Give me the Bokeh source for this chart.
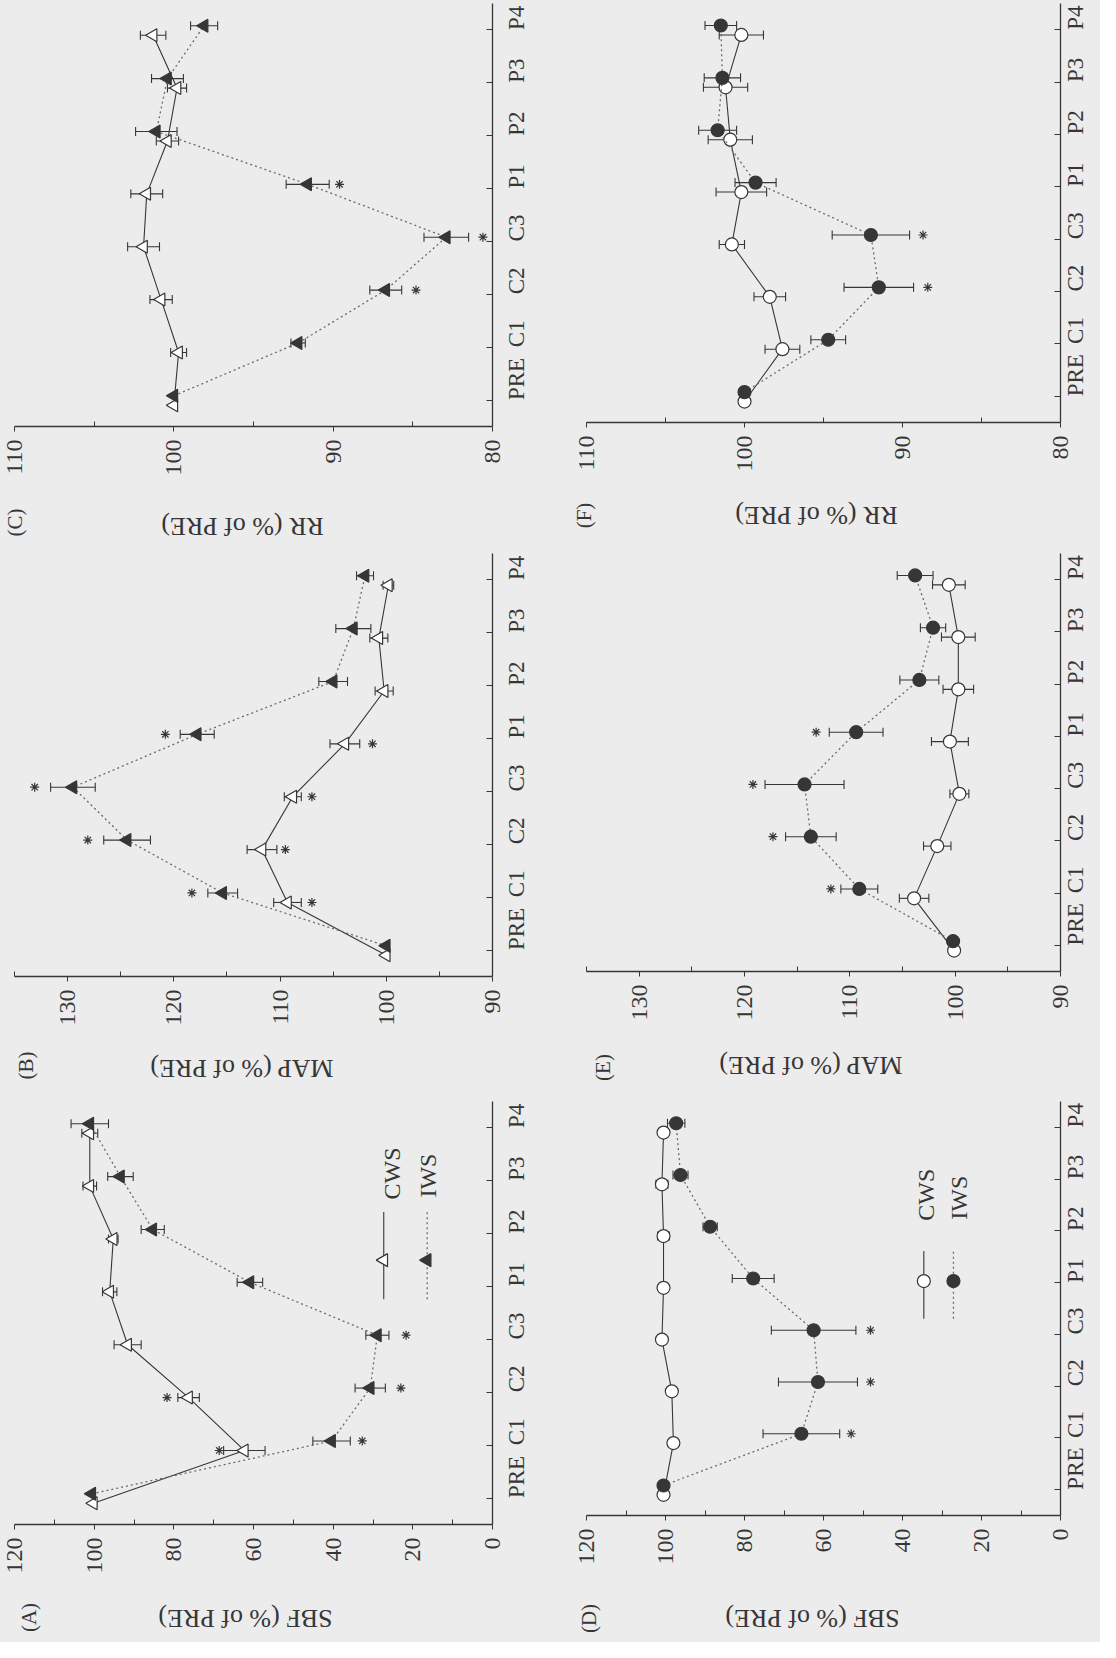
import math
from bokeh.plotting import figure
from bokeh.models import ColumnDataSource, Range1d, FixedTicker, Label
from bokeh.layouts import column, row
from bokeh.embed import file_html
from bokeh.resources import INLINE
from bokeh.core.properties import value

# ---------------- data ----------------
categories = ["PRE", "C1", "C2", "C3", "P1", "P2", "P3", "P4"]
series_names = ["CWS", "IWS"]

# (A) SBF, triangles
a_cws = [100.2, 62.3, 76.3, 91.6, 96.1, 95.2, 101.1, 101.1]
a_cws_err = [0, 5.2, 2.7, 3.4, 1.8, 1.2, 1.7, 2.0]
a_iws = [100.6, 40.4, 30.7, 28.9, 60.9, 85.3, 93.4, 101.1]
a_iws_err = [0, 4.7, 3.8, 2.9, 3.2, 2.9, 3.2, 4.7]
a_ast_cws = [None, 68.6, 81.7, None, None, None, None, None]
a_ast_iws = [None, 32.7, 23.0, 21.7, None, None, None, None]

# (B) MAP, triangles
b_cws = [100.0, 109.3, 111.7, 108.8, 103.9, 100.2, 100.7, 99.8]
b_cws_err = [0, 1.3, 1.4, 0.8, 1.4, 0.85, 0.85, 0.5]
b_iws = [100.0, 115.4, 124.4, 129.5, 117.8, 105.0, 103.1, 102.0]
b_iws_err = [0, 1.4, 2.2, 2.1, 1.6, 1.35, 1.65, 0.8]
b_ast_cws = [None, 107.0, 109.5, 107.0, 101.3, None, None, None]
b_ast_iws = [None, 118.3, 128.1, 133.1, 120.8, None, None, None]

# (C) RR, triangles
c_cws = [100.0, 99.7, 100.8, 101.9, 101.7, 100.4, 99.8, 101.3]
c_cws_err = [0, 0.5, 0.7, 1.0, 1.0, 0.7, 0.6, 0.8]
c_iws = [100.0, 92.2, 86.7, 82.9, 91.6, 101.1, 100.4, 98.1]
c_iws_err = [0, 0.45, 1.0, 1.4, 1.35, 1.3, 1.0, 0.85]
c_ast_cws = [None] * 8
c_ast_iws = [None, None, 84.8, 80.6, 89.6, None, None, None]

# (D) SBF, circles
d_cws = [100.5, 98.0, 98.4, 100.9, 100.5, 100.5, 100.9, 100.5]
d_cws_err = [0, 0.8, 0.8, 0.8, 0.8, 1.5, 1.5, 1.0]
d_iws = [100.5, 65.6, 61.4, 62.5, 77.8, 88.7, 96.2, 97.3]
d_iws_err = [0, 9.7, 10.0, 10.7, 5.3, 1.8, 1.9, 2.2]
d_ast_cws = [None] * 8
d_ast_iws = [None, 53.0, 48.1, 48.1, None, None, None, None]

# (E) MAP, circles
e_cws = [100.1, 103.9, 101.7, 99.6, 100.5, 99.7, 99.7, 100.6]
e_cws_err = [0, 1.4, 1.3, 0.9, 1.75, 1.45, 1.6, 1.55]
e_iws = [100.2, 109.1, 113.7, 114.3, 109.4, 103.4, 102.1, 103.8]
e_iws_err = [0, 1.75, 2.4, 3.75, 2.55, 1.85, 1.2, 1.7]
e_ast_cws = [None] * 8
e_ast_iws = [None, 111.8, 117.3, 119.2, 113.2, None, None, None]

# (F) RR, circles
f_cws = [100.0, 97.6, 98.4, 100.8, 100.2, 100.9, 101.2, 100.2]
f_cws_err = [0, 1.1, 1.0, 0.8, 1.6, 1.4, 1.4, 1.4]
f_iws = [100.0, 94.7, 91.5, 92.0, 99.3, 101.7, 101.4, 101.5]
f_iws_err = [0, 1.1, 2.2, 2.45, 1.3, 1.2, 1.15, 1.0]
f_ast_cws = [None] * 8
f_ast_iws = [None, None, 88.4, 88.7, None, None, None, None]

sbf_ticks = [0, 20, 40, 60, 80, 100, 120]
sbf_minor = [10, 30, 50, 70, 90, 110]
map_ticks = [90, 100, 110, 120, 130]
map_minor = [95, 105, 115, 125, 135]
rr_ticks = [80, 90, 100, 110]
rr_minor = [85, 95, 105]

# ---------------- style ----------------
BG = "#ececec"
INK = "#363636"
IWS_LINE = "#6a6a6a"
FONT = "Liberation Serif"
CWS_OFF = -0.1
IWS_OFF = 0.08
NCAT = len(categories)
POS = list(range(NCAT))


def cpos(cat, off=0.0):
    return categories.index(cat) + off


def make_panel(letter, title, vstart, vend, ticks, minor,
               cws, cws_err, iws, iws_err, ast_cws, ast_iws, marker,
               W, H, bl, br, bt, axis_px, std, lab_pos, tit_pos, legend=None):
    axis_w = W - bl - br
    upp = (vend - vstart) / axis_w
    x_start = vstart - bl * upp
    x_end = vend + br * upp
    unit = axis_px / NCAT
    y_end = NCAT - 0.5 + bt / unit
    y_start = -0.5 - (H - bt - axis_px) / unit

    p = figure(width=W, height=H,
               x_range=Range1d(x_start, x_end), y_range=Range1d(y_start, y_end),
               x_axis_location="below", y_axis_location="right",
               output_backend="svg", toolbar_location=None,
               min_border_left=0, min_border_right=0,
               min_border_top=0, min_border_bottom=0,
               background_fill_color=BG, border_fill_color=BG,
               outline_line_color=None)
    p.xgrid.visible = False
    p.ygrid.visible = False

    xa = p.xaxis[0]
    xa.fixed_location = -0.5
    xa.bounds = (min(vstart, vend), max(vstart, vend))
    xa.ticker = FixedTicker(ticks=ticks, minor_ticks=minor)
    xa.major_label_orientation = math.pi / 2
    xa.major_label_text_font = FONT
    xa.major_label_text_font_size = "24px"
    xa.major_label_text_color = INK
    xa.major_label_standoff = 8
    xa.major_tick_in = 0
    xa.major_tick_out = 5
    xa.minor_tick_in = 5
    xa.minor_tick_out = 0
    xa.axis_line_color = INK
    xa.axis_line_width = 1.3
    xa.major_tick_line_color = INK
    xa.minor_tick_line_color = INK

    ya = p.yaxis[0]
    ya.fixed_location = vend
    ya.bounds = (-0.5, NCAT - 0.5)
    ya.ticker = FixedTicker(ticks=POS, minor_ticks=[])
    ya.major_label_overrides = {i: c for i, c in enumerate(categories)}
    ya.major_label_orientation = math.pi / 2
    ya.major_label_text_font = FONT
    ya.major_label_text_font_size = "23px"
    ya.major_label_text_color = INK
    ya.major_label_standoff = std
    ya.major_tick_in = 6
    ya.major_tick_out = 0
    ya.minor_tick_line_color = None
    ya.axis_line_color = INK
    ya.axis_line_width = 1.3
    ya.major_tick_line_color = INK

    ang = math.pi / 2 if marker == "triangle" else 0.0
    for vals, errs, asts, off, filled in ((cws, cws_err, ast_cws, CWS_OFF, False),
                                          (iws, iws_err, ast_iws, IWS_OFF, True)):
        src = ColumnDataSource(dict(y=[i + off for i in POS], v=vals))
        if filled:
            p.line(x="v", y="y", source=src, line_color=IWS_LINE, line_width=1.3, line_dash="2 3")
        else:
            p.line(x="v", y="y", source=src, line_color=INK, line_width=1.1)
        ey = [i + off for i, e in zip(POS, errs) if e > 0]
        elo = [v - e for v, e in zip(vals, errs) if e > 0]
        ehi = [v + e for v, e in zip(vals, errs) if e > 0]
        esrc = ColumnDataSource(dict(y=ey, lo=elo, hi=ehi))
        p.segment(x0="lo", y0="y", x1="hi", y1="y", source=esrc, line_color=INK, line_width=1.1)
        for end in ("lo", "hi"):
            p.scatter(x=end, y="y", source=esrc, marker="dash", angle=math.pi / 2,
                      size=9, line_color=INK, line_width=1.1)
        p.scatter(x="v", y="y", source=src, marker=marker, angle=ang, size=13,
                  fill_color=INK if filled else "white", line_color=INK, line_width=1.2)
        ay = [i + off for i, a in zip(POS, asts) if a is not None]
        av = [a for a in asts if a is not None]
        if ay:
            asrc = ColumnDataSource(dict(y=ay, v=av))
            p.scatter(x="v", y="y", source=asrc, marker="asterisk", size=9,
                      line_color=INK, line_width=1.2)

    if legend is not None:
        for name, filled, lx, tx, ytxt in zip(series_names, (False, True), legend["line_x"],
                                              legend["text_x"], legend["text_y"]):
            lsrc = ColumnDataSource(dict(x=[lx, lx], y=[cpos(*legend["y0"]), cpos(*legend["y1"])]))
            if filled:
                p.line(x="x", y="y", source=lsrc, line_color=IWS_LINE, line_width=1.3, line_dash="2 3")
            else:
                p.line(x="x", y="y", source=lsrc, line_color=INK, line_width=1.1)
            msrc = ColumnDataSource(dict(x=[lx], y=[cpos(*legend["ym"])]))
            p.scatter(x="x", y="y", source=msrc, marker=marker, angle=ang, size=13,
                      fill_color=INK if filled else "white", line_color=INK, line_width=1.2)
            tsrc = ColumnDataSource(dict(x=[tx], y=[cpos(*ytxt)], t=[name]))
            p.text(x="x", y="y", text="t", source=tsrc, angle=math.pi / 2,
                   text_align="center", text_baseline="middle",
                   text_font=value(FONT), text_font_size="24px", text_color=INK)

    def px_to_data(dx, dy):
        return vstart + dx * upp, -0.5 + dy / unit

    lx, ly = px_to_data(*lab_pos)
    p.add_layout(Label(x=lx, y=ly, text=f"({letter})", angle=math.pi / 2,
                       text_align="center", text_baseline="middle", text_font=FONT,
                       text_font_size="21px", text_color=INK))
    tx, ty = px_to_data(*tit_pos)
    p.add_layout(Label(x=tx, y=ty, text=title, angle=math.pi,
                       text_align="center", text_baseline="middle", text_font=FONT,
                       text_font_size="26px", text_color=INK))
    return p


LW, RW = 544, 556
LBL, LBR = 14, 52
RBL, RBR = 42, 40

legend_a = dict(line_x=[27.3, 16.4], text_x=[25.3, 16.2], text_y=[("P3", 0.14), ("P3", 0.1)],
                y0=("P1", -0.24), y1=("P2", 0.41), ym=("P1", 0.5))
legend_d = dict(line_x=[34.6, 27.1], text_x=[34.0, 25.6], text_y=[("P2", 0.7), ("P2", 0.64)],
                y0=("C3", 0.3), y1=("P1", 0.61), ym=("P1", 0.03))

pC = make_panel("C", "RR (% of PRE)", 110, 80, rr_ticks, rr_minor,
                c_cws, c_cws_err, c_iws, c_iws_err, c_ast_cws, c_ast_iws, "triangle",
                LW, 549, LBL, LBR, 3, 423, 24, (0, -96), (228, -100))
pF = make_panel("F", "RR (% of PRE)", 110, 80, rr_ticks, rr_minor,
                f_cws, f_cws_err, f_iws, f_iws_err, f_ast_cws, f_ast_iws, "circle",
                RW, 549, RBL, RBR, 3, 419, 15, (-3, -93), (230, -93))
pB = make_panel("B", "MAP (% of PRE)", 135, 90, map_ticks, map_minor,
                b_cws, b_cws_err, b_iws, b_iws_err, b_ast_cws, b_ast_iws, "triangle",
                LW, 549, LBL, LBR, 4, 423, 24, (11, -89), (227, -92))
pE = make_panel("E", "MAP (% of PRE)", 135, 90, map_ticks, map_minor,
                e_cws, e_cws_err, e_iws, e_iws_err, e_ast_cws, e_ast_iws, "circle",
                RW, 549, RBL, RBR, 4, 418, 15, (16, -96), (224, -94))
pA = make_panel("A", "SBF (% of PRE)", 120, 0, sbf_ticks, sbf_minor,
                a_cws, a_cws_err, a_iws, a_iws_err, a_ast_cws, a_ast_iws, "triangle",
                LW, 544, LBL, LBR, 3, 423, 24, (14, -93), (231, -94), legend=legend_a)
pD = make_panel("D", "SBF (% of PRE)", 120, 0, sbf_ticks, sbf_minor,
                d_cws, d_cws_err, d_iws, d_iws_err, d_ast_cws, d_ast_iws, "circle",
                RW, 544, RBL, RBR, 3, 414, 15, (2, -103), (226, -103), legend=legend_d)

bgstyle = {"background-color": BG}
layout = column(row(pC, pF, styles=bgstyle), row(pB, pE, styles=bgstyle),
                row(pA, pD, styles=bgstyle), styles=bgstyle)

with open("out.html", "w") as fh:
    fh.write(file_html(layout, INLINE))
